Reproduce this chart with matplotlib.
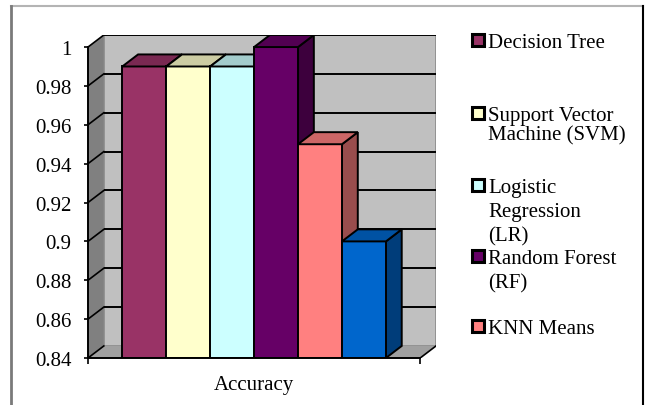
import matplotlib
matplotlib.use("Agg")
import matplotlib.pyplot as plt
from matplotlib.patches import Polygon, Rectangle
from matplotlib.lines import Line2D
from matplotlib.colors import to_rgb

plt.rcParams['font.family'] = 'serif'
plt.rcParams['font.serif'] = ['Liberation Serif', 'DejaVu Serif']

# Data
category = "Accuracy"
legend_labels = ["Decision Tree", "Support Vector\nMachine (SVM)",
                 "Logistic\nRegression\n(LR)", "Random Forest\n(RF)", "KNN Means"]
accuracy = [0.99, 0.99, 0.99, 1.00, 0.95, 0.90]
bar_colors = ["#993366", "#FFFFCC", "#CCFFFF", "#660066", "#FF8080", "#0066CC"]
y_ticks = [0.84, 0.86, 0.88, 0.90, 0.92, 0.94, 0.96, 0.98, 1.00]
y_tick_labels = ["0.84", "0.86", "0.88", "0.9", "0.92", "0.94", "0.96", "0.98", "1"]

W, H = 647, 406
fig = plt.figure(figsize=(W / 100, H / 100), dpi=100)
fig.patch.set_facecolor("white")

# oblique depth offsets (data units)
DX, DY = 0.36, 0.0062
X0, X1 = -0.78, 6.78
YMIN, YMAX = y_ticks[0], y_ticks[-1]

ax = fig.add_axes([88 / W, (H - 359) / H, 348 / W, 323 / H])
ax.set_xlim(X0, X1 + DX)
ax.set_ylim(YMIN, YMAX + DY)
ax.patch.set_visible(False)


def shade(c, f):
    r, g, b = to_rgb(c)
    return (r * f, g * f, b * f)


# walls and floor
back = Polygon([(X0 + DX, YMIN + DY), (X1 + DX, YMIN + DY),
                (X1 + DX, YMAX + DY), (X0 + DX, YMAX + DY)],
               closed=True, facecolor="#C0C0C0", edgecolor="#8A8A8A", lw=1.2, zorder=1)
side = Polygon([(X0, YMIN), (X0 + DX, YMIN + DY), (X0 + DX, YMAX + DY), (X0, YMAX)],
               closed=True, facecolor="#808080", edgecolor="none", zorder=1)
floor = Polygon([(X0, YMIN), (X1, YMIN), (X1 + DX, YMIN + DY), (X0 + DX, YMIN + DY)],
                closed=True, facecolor="#A0A0A0", edgecolor="none", zorder=1)
for p in (back, side, floor):
    ax.add_patch(p)

# gridlines on back and side walls
for v in y_ticks:
    if v > YMIN:
        ax.plot([X0 + DX, X1 + DX], [v + DY, v + DY], color="black", lw=1.4, zorder=2,
                solid_capstyle="butt")
    ax.plot([X0, X0 + DX], [v, v + DY], color="black", lw=1.2, zorder=2)
ax.plot([X1, X1 + DX], [YMIN, YMIN + DY], color="black", lw=1.2, zorder=2)

# 3-D style bars
for i, (val, col) in enumerate(zip(accuracy, bar_colors)):
    x_l, x_r = i, i + 1
    z = 3 + i * 0.01
    front = Polygon([(x_l, YMIN), (x_r, YMIN), (x_r, val), (x_l, val)], closed=True,
                    facecolor=col, edgecolor="black", lw=1.4, zorder=z, joinstyle="miter")
    top = Polygon([(x_l, val), (x_r, val), (x_r + DX, val + DY), (x_l + DX, val + DY)],
                  closed=True, facecolor=shade(col, 0.8), edgecolor="black", lw=1.4,
                  zorder=z, joinstyle="miter")
    right = Polygon([(x_r, YMIN), (x_r + DX, YMIN + DY), (x_r + DX, val + DY), (x_r, val)],
                    closed=True, facecolor=shade(col, 0.6), edgecolor="black", lw=1.4,
                    zorder=z, joinstyle="miter")
    for p in (right, front, top):
        ax.add_patch(p)

# axes lines and ticks
for s in ("top", "right"):
    ax.spines[s].set_visible(False)
ax.spines["left"].set_bounds(YMIN, YMAX)
ax.spines["bottom"].set_bounds(X0, X1)
for s in ("left", "bottom"):
    ax.spines[s].set_linewidth(1.4)
    ax.spines[s].set_zorder(10)

ax.set_yticks(y_ticks)
ax.set_yticklabels(y_tick_labels)
ax.tick_params(axis="y", direction="out", length=3, width=1.2, pad=9,
               labelsize=15, colors="black")

ax.set_xticks([3])
ax.set_xticklabels([category])
ax.set_xticks([X0, X1], minor=True)
ax.tick_params(axis="x", which="major", length=0, pad=12, labelsize=15)
ax.tick_params(axis="x", which="minor", direction="out", length=4, width=1.2)


# legend
def px(x, y):
    return x / W, 1 - y / H


legend_rows = [48, 121, 193, 264, 334]
legend_pitch = [24, 19, 24, 24, 24]
for lab, col, base, pitch in zip(legend_labels, bar_colors, legend_rows, legend_pitch):
    sx, sy = px(472, base - 1)
    fig.add_artist(Rectangle((sx, sy), 12 / W, 12 / H, transform=fig.transFigure,
                             facecolor=col, edgecolor="black", lw=2.2))
    for k, line in enumerate(lab.split("\n")):
        tx, ty = px(488, base + k * pitch)
        fig.text(tx, ty, line, fontsize=15, va="baseline", ha="left")

# outer frame
fig.add_artist(Line2D([11 / W, 643 / W], [1 - 7 / H, 1 - 7 / H],
                      transform=fig.transFigure, color="#B4B4B4", lw=1.5))
fig.add_artist(Line2D([11 / W, 11 / W], [0, 1 - 7 / H],
                      transform=fig.transFigure, color="#7A7A7A", lw=2))
fig.add_artist(Line2D([643 / W, 643 / W], [0, 1 - 7 / H],
                      transform=fig.transFigure, color="black", lw=1.5))

fig.savefig("out.png", dpi=100)
